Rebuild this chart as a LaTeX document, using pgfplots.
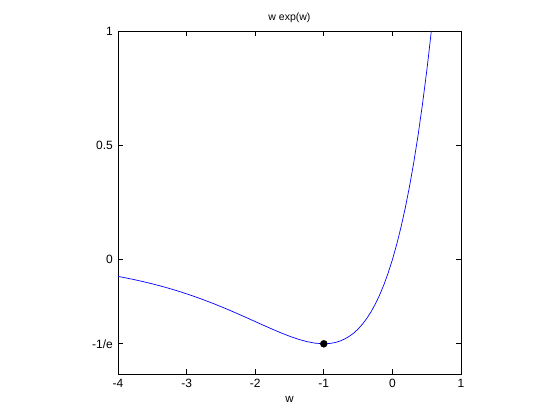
\documentclass[border=0pt]{standalone}
\usepackage{fontspec}
\setmainfont{Liberation Sans}
\usepackage{pgfplots}
\pgfplotsset{compat=1.18}
\begin{document}
\fontsize{12bp}{14bp}\selectfont
\begin{tikzpicture}
\path[use as bounding box] (-118bp,-46bp) rectangle (442bp,374bp);
\begin{axis}[
  at={(0,0)}, anchor=south west,
  scale only axis, width=343bp, height=343bp,
  xmin=-4, xmax=1, ymin=-0.5, ymax=1,
  xtick={-4,-3,-2,-1,0,1},
  ytick={-0.367879,0,0.5,1},
  yticklabels={-1/e,0,0.5,1},
  tick align=inside, major tick length=5bp,
  tick style={black, line width=0.7bp},
  axis line style={line width=0.7bp},
  /pgf/number format/assume math mode=true,
  tick label style={font=\fontsize{12bp}{14bp}\selectfont},
  yticklabel style={xshift=-1bp},
  title={w exp(w)},
  title style={font=\fontsize{10.5bp}{12bp}\selectfont, yshift=-2bp},
  xlabel={w},
  xlabel style={font=\fontsize{11.5bp}{13bp}\selectfont, yshift=-1bp},
  xticklabel style={yshift=-1bp},
  clip=true,
]
\addplot[blue, line width=0.7bp] coordinates {
(-4,-0.073263) (-3.875,-0.080423) (-3.75,-0.088191) (-3.625,-0.096603)
(-3.5,-0.105691) (-3.375,-0.115486) (-3.25,-0.126016) (-3.125,-0.137303)
(-3,-0.149361) (-2.875,-0.162196) (-2.75,-0.175801) (-2.625,-0.190155)
(-2.5,-0.205212) (-2.375,-0.220908) (-2.25,-0.237148) (-2.125,-0.253795)
(-2,-0.270671) (-1.875,-0.287541) (-1.75,-0.304104) (-1.625,-0.319982)
(-1.5,-0.334695) (-1.375,-0.347655) (-1.25,-0.358131) (-1.125,-0.365234)
(-1,-0.367879) (-0.9375,-0.367131) (-0.875,-0.364754) (-0.8125,-0.360544)
(-0.75,-0.354275) (-0.6875,-0.345698) (-0.625,-0.334538) (-0.5625,-0.320503)
(-0.5,-0.303265) (-0.4375,-0.282471) (-0.375,-0.257733) (-0.3125,-0.228630)
(-0.25,-0.194700) (-0.1875,-0.155443) (-0.125,-0.110312) (-0.0625,-0.058713)
(0,0) (0.0625,0.066531) (0.125,0.141644) (0.1875,0.226168)
(0.25,0.321006) (0.3125,0.427137) (0.375,0.545622) (0.4375,0.677613)
(0.5,0.824361) (0.53,0.900434) (0.567143,1.0)
};
\addplot[only marks, mark=*, mark size=3.5bp, black] coordinates {(-1,-0.367879)};
\end{axis}
\end{tikzpicture}
\end{document}
